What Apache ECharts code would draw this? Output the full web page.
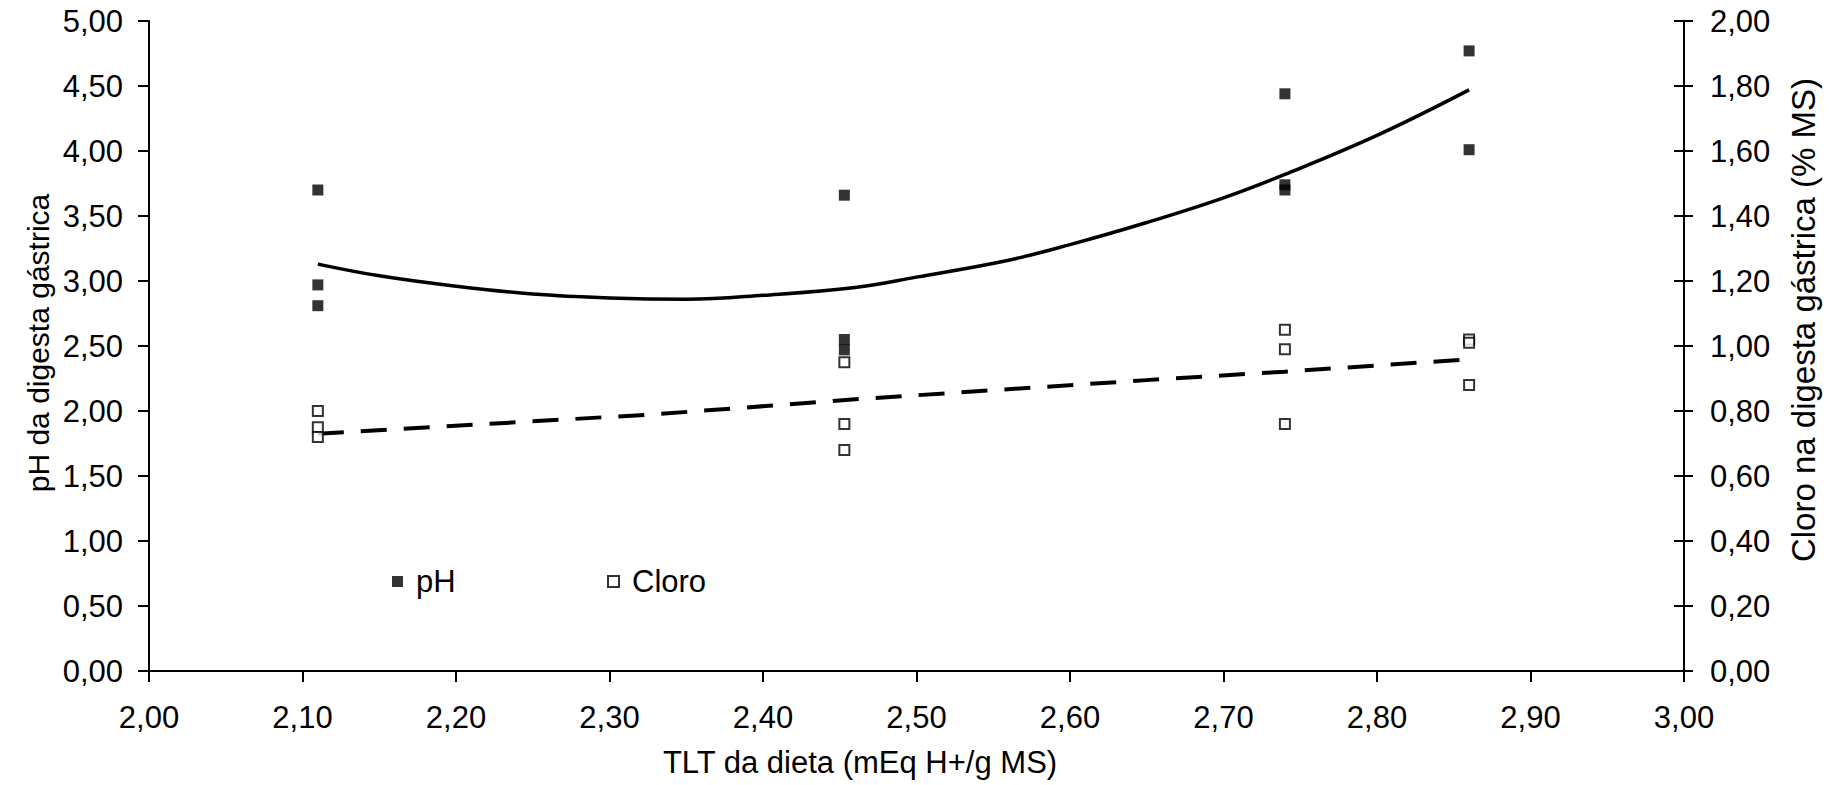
<!DOCTYPE html>
<html>
<head>
<meta charset="utf-8">
<script src="https://cdn.jsdelivr.net/npm/echarts@6/dist/echarts.min.js"></script>
<style>
html,body{margin:0;padding:0;background:#fff;}
#chart{width:1833px;height:785px;}
</style>
</head>
<body>
<div id="chart"></div>
<script>
// ---- data ----
const pHX = [2.11, 2.11, 2.11, 2.453, 2.453, 2.453, 2.74, 2.74, 2.74, 2.86, 2.86];
const pHY = [3.70, 2.97, 2.81, 3.66, 2.55, 2.47, 4.44, 3.74, 3.70, 4.77, 4.01];
const cloroX = [2.11, 2.11, 2.11, 2.453, 2.453, 2.453, 2.74, 2.74, 2.74, 2.86, 2.86, 2.86];
const cloroY = [0.80, 0.75, 0.72, 0.95, 0.76, 0.68, 1.05, 0.99, 0.76, 1.02, 1.01, 0.88];
// fitted trend lines
const pHFitX = [2.11, 2.15, 2.20, 2.25, 2.30, 2.35, 2.40, 2.46, 2.50, 2.56, 2.60, 2.65, 2.70, 2.74, 2.80, 2.86];
const pHFitY = [3.13, 3.04, 2.96, 2.90, 2.87, 2.86, 2.89, 2.95, 3.03, 3.16, 3.28, 3.45, 3.64, 3.82, 4.12, 4.47];
const cloroFitX = [2.11, 2.33, 2.46, 2.65, 2.74, 2.86];
const cloroFitY = [0.73, 0.79, 0.836, 0.895, 0.921, 0.959];
// axis ranges / texts
const xRange = [2.0, 3.0, 0.1];
const yLeftRange = [0, 5, 0.5];
const yRightRange = [0, 2, 0.2];
const xTitle = 'TLT da dieta (mEq H+/g MS)';
const yLeftTitle = 'pH da digesta gástrica';
const yRightTitle = 'Cloro na digesta gástrica (% MS)';
const legendNames = ['pH', 'Cloro'];

const zip = (a, b) => a.map((v, i) => [v, b[i]]);
const fmt = v => v.toFixed(2).replace('.', ',');
const FONT = "'Liberation Sans', Arial, sans-serif";
const FS = 31;

const chart = echarts.init(document.getElementById('chart'), null, {renderer: 'svg'});
const axisLine = {show: true, lineStyle: {color: '#000', width: 2}};
chart.setOption({
  animation: false,
  backgroundColor: '#fff',
  textStyle: {fontFamily: FONT},
  grid: {left: 149, right: 149, top: 21, bottom: 114, containLabel: false},
  legend: [
    {data: [legendNames[0]], left: 392, top: 566, itemWidth: 11, itemHeight: 11, padding: 0,
     textStyle: {fontSize: FS, fontFamily: FONT, color: '#000', padding: [0, 0, 0, 8]}},
    {data: [legendNames[1]], left: 607, top: 566, itemWidth: 11, itemHeight: 11, padding: 0,
     textStyle: {fontSize: FS, fontFamily: FONT, color: '#000', padding: [0, 0, 0, 8]}}
  ],
  xAxis: {
    type: 'value', min: xRange[0], max: xRange[1], interval: xRange[2],
    axisLine: axisLine,
    axisTick: {show: true, inside: false, length: 11, lineStyle: {color: '#000', width: 2}},
    axisLabel: {fontSize: FS, fontFamily: FONT, color: '#000', margin: 31, formatter: fmt},
    splitLine: {show: false}
  },
  yAxis: [
    {type: 'value', position: 'left', min: yLeftRange[0], max: yLeftRange[1], interval: yLeftRange[2],
     axisLine: axisLine,
     axisTick: {show: true, inside: false, length: 11, lineStyle: {color: '#000', width: 2}},
     axisLabel: {fontSize: FS, fontFamily: FONT, color: '#000', margin: 26, formatter: fmt},
     splitLine: {show: false}},
    {type: 'value', position: 'right', min: yRightRange[0], max: yRightRange[1], interval: yRightRange[2],
     axisLine: axisLine,
     axisTick: {show: true, inside: false, length: 9, lineStyle: {color: '#000', width: 2}},
     axisLabel: {fontSize: FS, fontFamily: FONT, color: '#000', margin: 26, formatter: fmt},
     splitLine: {show: false}},
    {type: 'value', position: 'right', min: yRightRange[0], max: yRightRange[1], interval: yRightRange[2],
     axisLine: axisLine,
     axisTick: {show: true, inside: true, length: 10, lineStyle: {color: '#000', width: 2}},
     axisLabel: {show: false},
     splitLine: {show: false}}
  ],
  graphic: [
    {type: 'text', x: 860, y: 762, style: {text: xTitle, font: FS + 'px ' + FONT, fill: '#000', textAlign: 'center', textVerticalAlign: 'middle'}},
    {type: 'text', x: 38, y: 343, rotation: Math.PI / 2, style: {text: yLeftTitle, font: '30px ' + FONT, fill: '#000', textAlign: 'center', textVerticalAlign: 'middle'}},
    {type: 'text', x: 1803, y: 320, rotation: Math.PI / 2, style: {text: yRightTitle, font: '33px ' + FONT, fill: '#000', textAlign: 'center', textVerticalAlign: 'middle'}}
  ],
  series: [
    {name: 'pH fit', type: 'line', yAxisIndex: 0, data: zip(pHFitX, pHFitY), smooth: 0.4,
     symbol: 'none', lineStyle: {color: '#000', width: 3.5}, z: 2},
    {name: 'Cloro fit', type: 'line', yAxisIndex: 1, data: zip(cloroFitX, cloroFitY), smooth: false,
     symbol: 'none', lineStyle: {color: '#000', width: 4, type: [26, 17]}, z: 2},
    {name: legendNames[0], type: 'scatter', yAxisIndex: 0, data: zip(pHX, pHY), symbol: 'rect', symbolSize: 11,
     itemStyle: {color: '#000'}, z: 3},
    {name: legendNames[1], type: 'scatter', yAxisIndex: 1, data: zip(cloroX, cloroY), symbol: 'rect', symbolSize: 10,
     itemStyle: {color: '#fff', borderColor: '#000', borderWidth: 2}, z: 3}
  ]
});
</script>
</body>
</html>
